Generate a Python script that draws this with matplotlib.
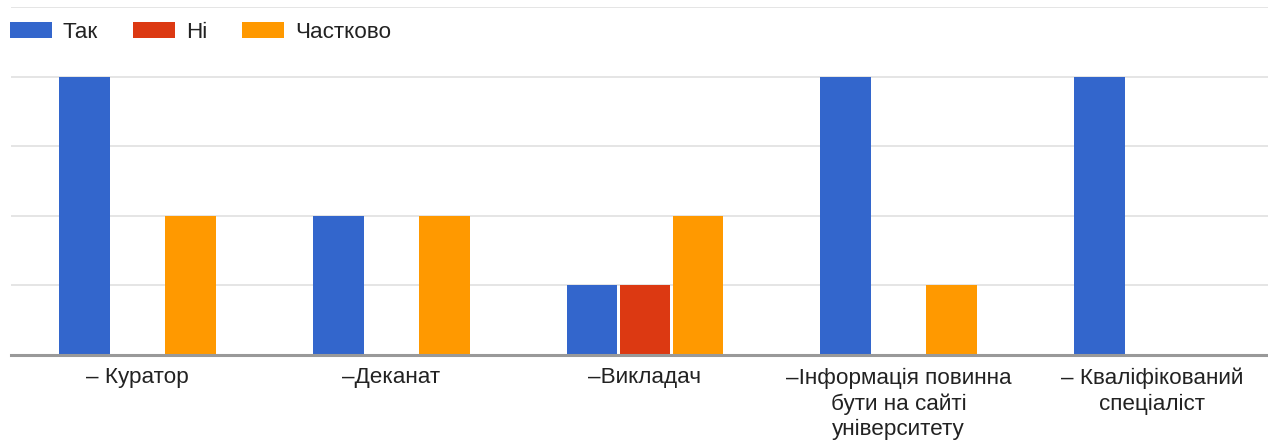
import matplotlib
matplotlib.use("Agg")
import matplotlib.pyplot as plt
import numpy as np

categories = ["– Куратор", "–Деканат", "–Викладач",
              "–Інформація повинна\nбути на сайті\nуніверситету",
              "– Кваліфікований\nспеціаліст"]
series_names = ["Так", "Ні", "Частково"]
tak = [4, 2, 1, 4, 4]
ni = [0, 0, 1, 0, 0]
chastkovo = [2, 2, 2, 1, 0]
colors = ["#3366CC", "#DC3912", "#FF9900"]

plt.rcParams['font.family'] = ['Liberation Sans', 'DejaVu Sans']

W, H = 1268, 441
fig = plt.figure(figsize=(W / 100, H / 100), dpi=100)
left_px, right_px = 11, 1279
ax = fig.add_axes([left_px / W, (H - 355) / H, (right_px - left_px) / W, 348 / H])

x = np.arange(len(categories))
pitch = 0.209
bw = 0.2
for i, (vals, name, c) in enumerate(zip([tak, ni, chastkovo], series_names, colors)):
    ax.bar(x + (i - 1) * pitch, vals, width=bw, color=c, label=name, zorder=3)

ax.set_xlim(-0.5, len(categories) - 0.5)
ax.set_ylim(0, 5)
ax.set_yticks([1, 2, 3, 4, 5])
ax.yaxis.grid(True, color="#e0e0e0", linewidth=1.2, zorder=0)
ax.tick_params(axis='y', left=False, labelleft=False)
ax.set_xticks(x)
ax.set_xticklabels(categories, fontsize=16.2, color="#222222", linespacing=1.28)
ax.tick_params(axis='x', length=0, pad=9)
for s in ["top", "right", "left"]:
    ax.spines[s].set_visible(False)
ax.spines["bottom"].set_color("#999999")
ax.spines["bottom"].set_linewidth(2.2)
ax.spines["bottom"].set_zorder(4)

leg = fig.legend(loc="center left", bbox_to_anchor=(10 / W, 1 - 32 / H), ncol=3,
                 frameon=False, fontsize=16.2, handlelength=1.87, handleheight=0.72,
                 handletextpad=0.48, columnspacing=1.55, borderaxespad=0, borderpad=0)
for t in leg.get_texts():
    t.set_color("#222222")

fig.savefig("out.png", dpi=100, facecolor="white")
